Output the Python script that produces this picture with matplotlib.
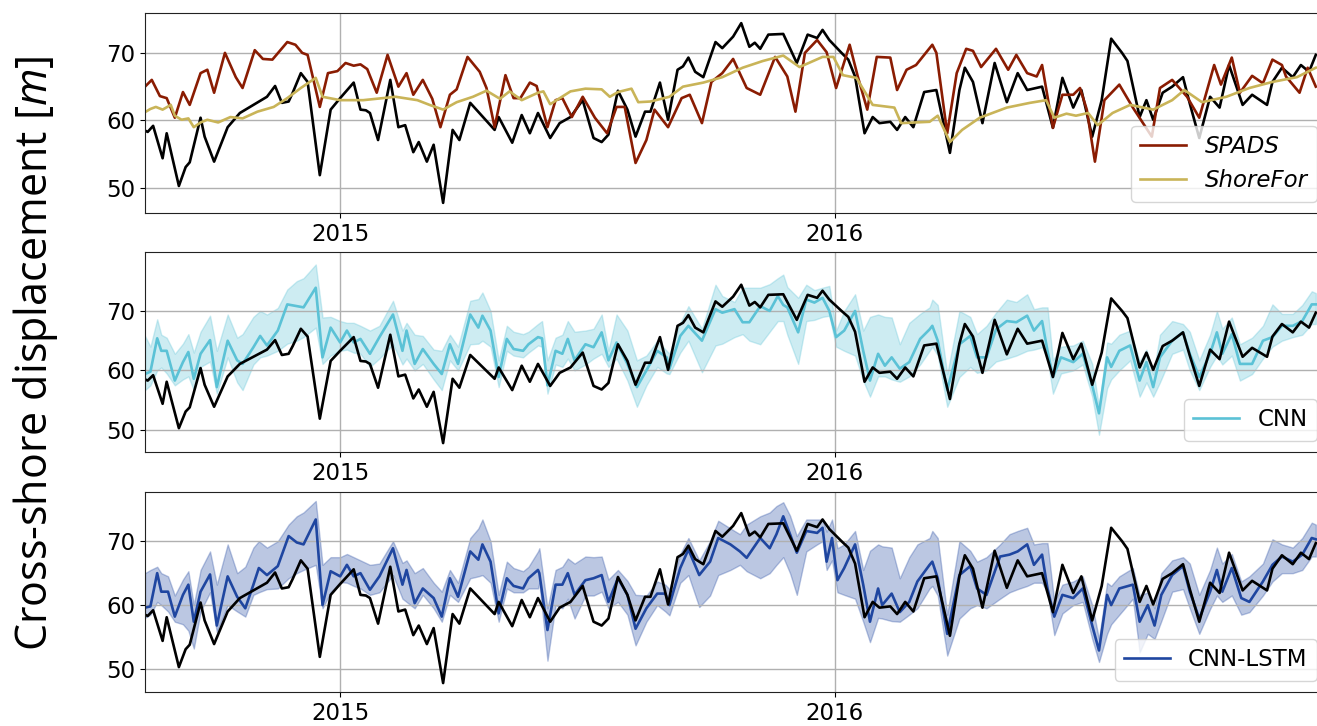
import numpy as np
import pandas as pd
import matplotlib
matplotlib.use('Agg')
import matplotlib.pyplot as plt
import matplotlib.dates as mdates

plt.rcParams['mathtext.fontset'] = 'custom'
plt.rcParams['mathtext.rm'] = 'Open Sans'
plt.rcParams['mathtext.it'] = 'Open Sans:italic'
plt.rcParams['lines.solid_joinstyle'] = 'round'

start = pd.Timestamp('2015-01-01')

# observed shoreline position (days from 1 Jan 2015, metres)
obs_day = [-145, -142, -138, -131, -128, -119, -114, -111, -103, -100, -93, -83, -74,
           -54, -48, -43, -38, -35, -29, -24, -15, -7, 0, 10, 15, 19, 22, 28, 37, 43,
           48, 54, 58, 64, 69, 76, 83, 88, 96, 114, 117, 127, 134, 140, 146, 155, 162,
           170, 179, 187, 193, 198, 205, 212, 218, 225, 229, 236, 242, 249, 253, 257,
           262, 268, 277, 282, 290, 296, 302, 306, 310, 316, 327, 337, 345, 352, 356,
           361, 370, 375, 380, 387, 393, 398, 406, 411, 417, 423, 431, 440, 450, 457,
           461, 467, 474, 483, 492, 500, 507, 518, 526, 533, 541, 547, 555, 562, 569,
           577, 581, 590, 595, 600, 607, 614, 622, 627, 634, 642, 649, 656, 666, 673,
           684, 688, 695, 703, 709, 715, 720]
obs_val = [58.6, 58.3, 59.2, 54.4, 58.1, 50.3, 53.1, 53.8, 60.4, 57.6, 53.9, 59.0, 61.1,
           63.5, 65.1, 62.6, 62.8, 64.1, 67.0, 65.7, 51.9, 61.6, 63.3, 65.6, 61.6, 61.5, 61.1,
           57.1, 66.0, 59.0, 59.3, 55.3, 56.8, 53.9, 56.4, 47.8, 58.6, 57.1, 62.6, 58.6, 60.5,
           56.7, 60.8, 58.1, 61.1, 57.4, 59.6, 60.5, 63.0, 57.4, 56.8, 57.9, 64.4, 61.6, 57.6,
           61.3, 61.3, 65.6, 60.1, 67.5, 68.0, 69.3, 67.2, 66.4, 71.6, 70.7, 72.4, 74.4, 70.9,
           71.5, 70.6, 72.7, 72.8, 68.5, 72.7, 72.2, 73.4, 71.9, 70.0, 69.0, 66.5, 58.1, 60.5,
           59.6, 59.8, 58.6, 60.5, 59.0, 64.2, 64.5, 55.2, 64.5, 67.8, 65.7, 59.6, 68.5, 62.7,
           67.0, 64.5, 65.0, 58.9, 66.3, 61.9, 64.5, 57.6, 63.0, 72.1, 70.0, 68.8, 60.5, 63.0,
           60.1, 64.1, 65.0, 66.4, 62.5, 57.4, 63.5, 61.9, 68.2, 62.3, 63.8, 62.3, 65.7, 67.8,
           66.4, 68.2, 67.2, 69.7]

# SPADS
spads_day = [-145, -139, -133, -128, -122, -116, -111, -103, -98, -93, -85, -77, -72, -63,
             -57, -50, -39, -33, -28, -24, -15, -9, -2, 4, 10, 15, 20, 27, 35, 43, 49, 54,
             61, 68, 74, 81, 86, 94, 103, 108, 114, 122, 128, 133, 140, 145, 153, 159, 164,
             171, 179, 188, 197, 204, 210, 218, 226, 232, 242, 252, 258, 267, 274, 282, 290,
             300, 310, 321, 330, 336, 343, 352, 359, 366, 376, 382, 389, 396, 406, 411, 418,
             425, 437, 440, 448, 455, 462, 467, 473, 484, 493, 499, 507, 514, 518, 526, 533,
             541, 546, 551, 557, 564, 575, 585, 599, 605, 614, 625, 634, 645, 650, 658, 664,
             673, 681, 688, 695, 698, 708, 714, 720]
spads_val = [64.8, 66.0, 63.6, 63.3, 60.4, 64.2, 62.3, 67.0, 67.5, 64.1, 70.0, 66.4, 64.8,
             70.4, 69.1, 69.0, 71.6, 71.2, 70.0, 69.7, 62.0, 67.0, 67.3, 68.5, 68.1, 68.3,
             67.6, 64.1, 69.7, 65.0, 67.0, 63.8, 66.0, 63.2, 59.0, 63.8, 64.6, 69.4, 67.2,
             64.8, 59.0, 66.7, 63.3, 63.3, 65.6, 65.1, 59.0, 63.0, 63.3, 60.5, 63.5, 60.4,
             58.1, 62.0, 62.0, 53.7, 57.1, 61.6, 59.0, 63.3, 63.8, 59.6, 65.7, 67.0, 69.1,
             64.8, 63.8, 69.4, 66.5, 61.3, 70.0, 71.9, 70.1, 64.8, 71.2, 66.5, 61.6, 69.4,
             69.3, 64.5, 67.5, 68.2, 71.2, 70.0, 58.1, 67.0, 70.6, 70.3, 67.9, 70.6, 67.5,
             69.7, 67.0, 66.5, 68.2, 58.9, 63.8, 63.8, 64.8, 61.6, 53.9, 63.0, 65.3, 61.9,
             57.6, 64.8, 66.0, 63.5, 60.4, 68.2, 65.3, 69.3, 64.1, 66.6, 65.5, 69.0, 68.2,
             66.5, 64.1, 67.8, 65.0]

# ShoreFor
shorefor_day = [-145, -140, -136, -131, -125, -122, -117, -112, -108, -103, -98, -90, -81,
                -72, -61, -49, -39, -29, -18, -13, 0, 17, 41, 57, 66, 76, 86, 98, 108, 118,
                125, 134, 146, 150, 155, 170, 181, 193, 199, 205, 215, 220, 229, 243, 253,
                268, 282, 297, 312, 327, 339, 356, 364, 371, 381, 393, 409, 414, 435, 441,
                450, 459, 472, 492, 509, 521, 527, 536, 543, 552, 559, 570, 583, 600, 614,
                623, 636, 654, 671, 688, 706, 720]
shorefor_val = [61.1, 61.7, 62.0, 61.6, 62.3, 60.7, 60.1, 60.3, 59.0, 59.7, 60.1, 59.7, 60.5,
                60.3, 61.3, 62.0, 63.3, 64.8, 66.3, 63.5, 63.0, 63.0, 63.5, 63.0, 62.3, 61.6,
                62.7, 63.5, 64.4, 63.2, 64.3, 63.0, 64.1, 64.3, 62.4, 64.3, 64.7, 64.6, 63.5,
                64.2, 64.7, 62.7, 62.8, 63.5, 65.0, 65.6, 66.4, 67.8, 68.8, 69.6, 67.9, 69.4,
                69.4, 66.7, 66.3, 62.3, 61.9, 59.6, 59.8, 60.7, 56.8, 58.6, 60.4, 61.9, 62.6,
                63.0, 60.4, 61.0, 60.7, 61.1, 59.3, 61.1, 62.3, 61.6, 63.0, 64.5, 62.7, 63.5,
                64.8, 65.7, 66.4, 67.8]

# CNN ensemble: mean and spread
cnn_day = [-144, -140, -135, -132, -128, -122, -116, -112, -108, -103, -96, -91, -83, -76,
           -72, -64, -59, -54, -46, -39, -32, -27, -18, -13, -7, 0, 5, 10, 15, 22, 29, 39,
           46, 49, 55, 61, 69, 75, 81, 87, 96, 102, 105, 111, 117, 123, 128, 135, 139, 146,
           149, 153, 159, 164, 168, 173, 181, 187, 193, 198, 204, 212, 219, 226, 234, 241,
           243, 251, 257, 267, 277, 282, 291, 297, 302, 310, 317, 323, 327, 330, 338, 344,
           350, 356, 361, 366, 372, 380, 386, 391, 397, 402, 407, 413, 420, 428, 435, 437,
           441, 448, 457, 465, 470, 477, 484, 492, 499, 507, 512, 518, 522, 526, 532, 541,
           548, 555, 560, 566, 569, 575, 583, 590, 595, 600, 605, 614, 622, 627, 634, 642,
           647, 651, 658, 664, 673, 681, 688, 695, 703, 710, 717, 720]
cnn_mean = [59.4, 59.8, 65.4, 63.3, 63.3, 58.3, 61.4, 63.1, 58.6, 62.8, 65.1, 57.2, 65.0,
            61.7, 61.1, 63.9, 65.8, 64.2, 66.7, 71.1, 70.8, 70.6, 73.9, 62.2, 67.2, 64.7,
            66.7, 64.7, 65.3, 62.8, 65.6, 69.4, 63.3, 66.7, 61.1, 63.6, 61.1, 59.4, 64.4,
            61.1, 69.4, 67.2, 69.2, 66.7, 58.9, 65.3, 63.6, 63.3, 64.4, 65.6, 65.4, 57.5,
            63.3, 62.8, 65.3, 61.7, 64.4, 63.9, 66.4, 61.7, 64.7, 61.1, 57.2, 60.0, 63.3,
            62.2, 60.3, 65.8, 67.5, 65.0, 70.3, 69.7, 70.3, 68.1, 68.1, 70.8, 70.0, 72.5,
            71.0, 70.6, 66.4, 71.9, 71.4, 72.2, 70.0, 65.6, 66.7, 70.0, 63.3, 58.3, 62.8,
            60.8, 62.2, 60.3, 61.4, 65.3, 66.9, 67.5, 65.0, 56.7, 64.4, 65.8, 62.2, 62.2,
            66.9, 68.3, 68.1, 69.2, 66.7, 68.3, 63.3, 58.9, 62.2, 61.4, 62.8, 57.5, 52.8,
            62.2, 60.6, 63.3, 64.2, 58.3, 61.4, 57.2, 62.2, 65.0, 66.4, 62.8, 58.9, 62.8,
            66.4, 62.8, 66.1, 61.1, 61.1, 65.0, 65.6, 67.5, 67.5, 68.3, 71.1, 71.1]
cnn_lo = [56.7, 57.5, 60.0, 60.5, 59.5, 57.5, 58.5, 59.0, 56.7, 60.6, 61.5, 56.1, 62.2,
          58.0, 56.7, 61.0, 62.2, 62.5, 63.3, 64.5, 65.0, 65.6, 67.2, 61.1, 62.5, 63.3,
          63.5, 63.0, 62.8, 60.6, 62.0, 64.4, 61.0, 62.0, 60.0, 61.1, 58.5, 56.7, 61.7,
          60.0, 64.4, 64.5, 65.0, 64.0, 57.2, 63.3, 62.5, 62.2, 63.0, 64.2, 64.0, 56.1,
          61.0, 60.6, 62.0, 60.0, 61.0, 62.0, 62.8, 60.6, 62.0, 58.3, 53.9, 57.5, 60.6,
          59.5, 59.4, 63.0, 65.0, 59.7, 64.2, 64.5, 65.6, 66.1, 65.0, 64.4, 66.5, 68.3,
          68.3, 66.0, 61.1, 68.3, 68.5, 69.0, 69.2, 64.0, 63.3, 62.5, 58.3, 55.6, 59.0,
          59.0, 58.5, 58.1, 59.0, 61.0, 63.3, 64.0, 62.5, 53.9, 58.9, 60.6, 59.6, 60.0,
          61.5, 62.0, 62.5, 63.3, 63.5, 63.9, 62.0, 56.1, 59.5, 60.0, 61.0, 55.6, 49.2,
          57.0, 58.5, 60.0, 61.7, 55.6, 58.0, 55.6, 58.0, 62.8, 63.5, 60.0, 56.7, 60.6,
          62.5, 61.0, 62.5, 58.3, 59.4, 62.0, 64.0, 65.0, 65.6, 66.0, 67.8, 67.8]
cnn_hi = [65.8, 64.0, 68.6, 66.0, 65.5, 62.8, 64.5, 66.1, 63.0, 66.5, 69.2, 63.3, 69.4,
          65.5, 66.1, 69.0, 70.0, 69.4, 70.5, 73.6, 75.0, 75.5, 77.8, 68.9, 69.0, 68.3,
          68.0, 68.0, 67.5, 66.7, 67.5, 71.7, 66.7, 68.0, 66.0, 65.8, 63.5, 63.3, 66.0,
          64.0, 71.7, 72.0, 73.1, 70.0, 61.7, 67.5, 66.5, 66.1, 66.5, 67.8, 68.3, 61.7,
          65.5, 66.0, 68.3, 66.5, 66.7, 67.0, 69.4, 63.3, 69.4, 66.7, 61.7, 62.5, 65.0,
          63.3, 62.8, 68.0, 70.8, 67.0, 74.4, 72.5, 71.5, 73.9, 73.9, 73.9, 74.5, 75.5,
          76.1, 74.0, 72.2, 74.4, 73.5, 73.9, 74.2, 66.7, 70.0, 72.8, 66.7, 69.0, 69.4,
          69.0, 68.9, 64.4, 68.0, 69.5, 70.6, 71.9, 71.0, 59.4, 70.0, 69.0, 66.1, 67.5,
          69.7, 71.9, 71.5, 72.8, 70.3, 70.6, 70.6, 61.7, 64.0, 64.2, 65.0, 61.1, 53.9,
          64.7, 64.5, 66.0, 66.7, 61.5, 63.5, 59.4, 66.0, 68.3, 67.8, 66.5, 61.7, 66.0,
          70.0, 67.0, 68.9, 64.4, 65.5, 67.5, 71.1, 69.5, 69.5, 71.0, 73.3, 73.0]

# CNN-LSTM ensemble: mean and spread
lstm_day = [-144, -140, -135, -132, -127, -122, -116, -112, -108, -103, -96, -91, -83, -76,
            -70, -64, -60, -54, -46, -38, -32, -27, -18, -13, -7, 0, 5, 10, 15, 22, 29, 39,
            46, 49, 55, 61, 69, 75, 81, 87, 96, 102, 105, 111, 117, 123, 128, 135, 139, 146,
            147, 153, 159, 164, 168, 173, 181, 187, 193, 198, 205, 212, 218, 226, 234, 240,
            243, 251, 257, 265, 273, 279, 288, 295, 300, 310, 317, 322, 327, 332, 337, 344,
            352, 356, 359, 363, 367, 372, 380, 386, 391, 397, 400, 407, 413, 420, 426, 435,
            437, 441, 448, 457, 465, 470, 477, 487, 494, 500, 507, 512, 518, 522, 527, 533,
            541, 548, 555, 560, 566, 569, 575, 585, 590, 596, 601, 606, 614, 622, 627, 634,
            642, 647, 651, 658, 665, 671, 681, 688, 695, 703, 710, 717, 720]
lstm_mean = [59.6, 59.8, 65.0, 62.1, 62.1, 58.2, 61.6, 63.2, 57.4, 62.1, 64.8, 56.8, 64.5,
             61.3, 59.5, 63.2, 65.8, 64.7, 66.1, 70.8, 69.8, 69.5, 73.4, 60.0, 65.3, 64.5,
             66.3, 64.5, 65.0, 62.4, 64.5, 68.9, 63.2, 65.5, 60.3, 62.6, 61.1, 58.2, 64.2,
             61.3, 68.4, 67.1, 69.5, 66.8, 58.7, 64.2, 63.0, 62.6, 64.2, 65.5, 65.0, 56.1,
             63.2, 63.2, 65.0, 61.6, 63.9, 64.2, 64.7, 60.5, 64.2, 61.6, 56.3, 59.5, 61.8,
             61.8, 60.0, 65.8, 68.7, 64.7, 66.8, 70.5, 69.5, 68.4, 67.4, 70.5, 68.9, 71.1,
             73.9, 71.1, 68.2, 71.6, 71.3, 72.1, 66.8, 70.5, 63.9, 65.8, 69.5, 63.2, 57.4,
             62.6, 60.0, 61.8, 58.9, 60.5, 63.7, 66.3, 66.8, 64.2, 55.5, 64.7, 66.1, 62.6,
             61.6, 67.6, 67.9, 68.4, 69.5, 66.3, 67.9, 62.6, 58.2, 61.6, 61.1, 62.6, 56.8,
             52.9, 61.6, 60.0, 62.6, 63.2, 57.4, 60.0, 56.8, 61.6, 64.7, 66.1, 62.1, 57.9,
             62.1, 65.5, 62.1, 65.8, 61.1, 60.5, 63.7, 66.3, 67.6, 66.8, 67.9, 70.5, 70.3]
lstm_lo = [58.0, 58.5, 60.5, 60.0, 59.0, 57.4, 57.0, 56.0, 53.2, 59.0, 62.0, 55.8, 60.0,
           59.0, 58.2, 61.6, 62.0, 62.5, 62.6, 64.2, 65.0, 65.5, 66.3, 59.5, 62.0, 63.6,
           63.5, 63.0, 62.6, 61.6, 62.0, 64.7, 61.0, 60.5, 59.5, 61.6, 59.5, 57.4, 61.6,
           60.5, 64.2, 64.5, 64.7, 63.5, 57.4, 62.6, 62.0, 62.0, 62.6, 62.6, 63.5, 51.3,
           60.0, 59.5, 61.0, 57.9, 61.5, 61.5, 62.1, 59.5, 60.5, 58.5, 53.7, 57.4, 60.0,
           59.0, 58.4, 63.5, 64.7, 59.7, 61.5, 64.7, 65.5, 66.3, 65.3, 64.2, 65.0, 66.3,
           67.5, 65.0, 61.6, 68.4, 69.5, 70.0, 65.5, 67.0, 62.0, 61.6, 61.0, 57.4, 54.2,
           58.0, 57.9, 57.5, 57.4, 58.5, 59.5, 62.6, 63.0, 61.5, 52.1, 57.9, 59.5, 60.0,
           59.5, 61.0, 62.0, 62.5, 63.0, 63.5, 63.5, 62.0, 55.3, 58.7, 60.0, 60.5, 54.7,
           51.1, 55.5, 57.0, 58.5, 61.0, 52.6, 55.5, 54.7, 57.5, 62.1, 62.5, 59.5, 55.5,
           59.4, 61.5, 60.5, 61.5, 58.5, 58.9, 61.5, 63.7, 65.0, 65.0, 65.5, 67.6, 67.6]
lstm_hi = [65.0, 65.5, 66.0, 65.0, 64.5, 61.5, 64.0, 65.3, 60.0, 65.5, 68.4, 63.2, 69.5,
           65.0, 66.0, 69.0, 70.0, 69.0, 70.0, 72.6, 73.9, 74.5, 76.3, 66.3, 67.5, 67.5,
           68.0, 67.5, 67.0, 66.3, 66.5, 70.0, 66.6, 67.0, 65.0, 65.8, 63.5, 62.1, 65.5,
           63.5, 70.5, 72.0, 73.4, 70.0, 61.6, 66.8, 65.8, 65.3, 66.0, 68.4, 68.9, 59.5,
           65.5, 66.0, 67.3, 66.5, 67.6, 67.5, 67.6, 64.0, 65.5, 63.8, 61.6, 61.5, 63.7,
           63.2, 62.5, 68.0, 70.5, 67.0, 70.0, 73.2, 72.0, 71.1, 72.6, 73.9, 74.5, 75.5,
           76.1, 74.0, 70.8, 73.4, 73.4, 73.4, 71.5, 73.4, 68.9, 69.5, 71.6, 65.5, 68.5,
           69.5, 69.2, 69.0, 64.2, 67.5, 69.5, 70.5, 71.6, 70.5, 58.5, 70.0, 68.5, 66.8,
           67.5, 69.5, 71.1, 71.6, 72.1, 69.5, 69.7, 69.7, 60.5, 63.2, 63.7, 64.5, 60.0,
           54.7, 63.5, 63.0, 64.5, 65.8, 61.5, 62.0, 59.5, 65.0, 67.0, 67.5, 66.5, 61.6,
           65.5, 69.0, 66.5, 68.0, 63.7, 64.5, 66.5, 70.3, 69.5, 69.0, 70.5, 72.9, 72.6]

c_obs = 'black'
c_spads = '#8a1c02'
c_shorefor = '#c9b458'
c_cnn = '#5bc2d6'
c_lstm = '#1f46a0'


def to_dates(days):
    return start + pd.to_timedelta(np.array(days), unit='D')


fig = plt.figure(figsize=(13.17, 7.26), dpi=100)
left = 145 / 1317
width = (1328 - 145) / 1317
h = 200 / 726
ax1 = fig.add_axes([left, 1 - 213 / 726, width, h])
ax2 = fig.add_axes([left, 1 - 452 / 726, width, h])
ax3 = fig.add_axes([left, 1 - 692 / 726, width, h])

# top: physics based models
ax1.plot(to_dates(obs_day), obs_val, color=c_obs, lw=1.9)
ax1.plot(to_dates(spads_day), spads_val, color=c_spads, lw=1.9, label='SPADS')
ax1.plot(to_dates(shorefor_day), shorefor_val, color=c_shorefor, lw=1.9, label='ShoreFor')
ax1.legend(loc='lower right', prop={'style': 'italic', 'size': 16.5})
ax1.set_ylim(46.3, 75.9)

# middle: CNN
ax2.fill_between(to_dates(cnn_day), cnn_lo, cnn_hi, color=c_cnn, alpha=0.3, lw=1)
ax2.plot(to_dates(cnn_day), cnn_mean, color=c_cnn, lw=1.9, label='CNN')
ax2.plot(to_dates(obs_day), obs_val, color=c_obs, lw=1.9)
ax2.legend(loc='lower right', fontsize=16.5)
ax2.set_ylim(46.3, 79.9)

# bottom: CNN-LSTM
ax3.fill_between(to_dates(lstm_day), lstm_lo, lstm_hi, color=c_lstm, alpha=0.3, lw=1)
ax3.plot(to_dates(lstm_day), lstm_mean, color=c_lstm, lw=1.9, label='CNN-LSTM')
ax3.plot(to_dates(obs_day), obs_val, color=c_obs, lw=1.9)
ax3.legend(loc='lower right', fontsize=16.5)
ax3.set_ylim(46.4, 77.7)

for ax in (ax1, ax2, ax3):
    ax.set_xlim(to_dates([-144])[0], to_dates([729])[0])
    ax.xaxis.set_major_locator(mdates.YearLocator())
    ax.xaxis.set_major_formatter(mdates.DateFormatter('%Y'))
    ax.set_yticks([50, 60, 70])
    ax.tick_params(labelsize=16.5)
    ax.grid(True, color='#b0b0b0', lw=1)
    for s in ax.spines.values():
        s.set_color('#222222')

fig.text(0.027, 0.513, 'Cross-shore displacement [$m$]', rotation=90,
         ha='center', va='center', fontsize=31, family='Open Sans')

plt.savefig('out.png', dpi=100)
